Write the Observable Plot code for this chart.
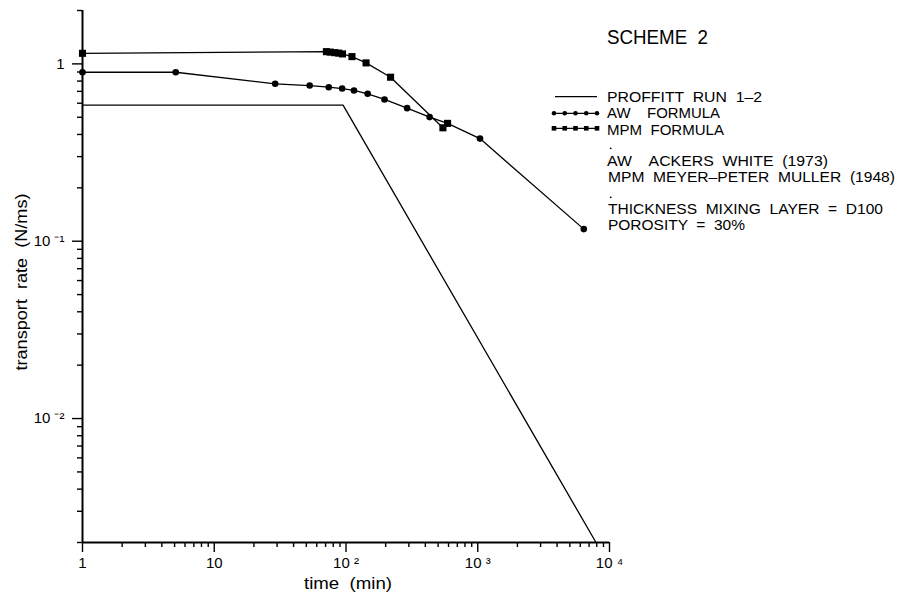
<!DOCTYPE html>
<html><head><meta charset="utf-8">
<script src="https://cdn.jsdelivr.net/npm/d3@7"></script>
<script src="https://cdn.jsdelivr.net/npm/@observablehq/plot@0.6"></script>
<style>body{margin:0;background:#fff} svg{display:block}</style>
</head><body><div id="chart"></div>
<script>
// ---- data ----
const proffittTime = [1, 95, 7900];
const proffittRate = [0.585, 0.585, 0.002];

const awTime = [1, 5.1, 29, 53, 74, 93.5, 115, 146, 196, 291, 431, 590, 1040, 6380];
const awRate = [0.897, 0.897, 0.772, 0.755, 0.739, 0.726, 0.708, 0.678, 0.630, 0.563, 0.501, 0.462, 0.379, 0.117];

const mpmTime = [1, 71, 76, 82, 88, 94, 111, 142, 218, 544, 590];
const mpmRate = [1.147, 1.172, 1.165, 1.157, 1.150, 1.138, 1.099, 1.013, 0.841, 0.436, 0.462];

const xMajor = [1, 10, 100, 1000, 10000];
const xMajorLabels = ["1", "10", "10 ²", "10 ³", "10 ⁴"];
const yMajor = [0.01, 0.1, 1];
const yMajorLabels = ["10 ⁻²", "10 ⁻¹", "1"];

const legendLabels = ["PROFFITT  RUN  1–2", "AW    FORMULA", "MPM  FORMULA"];
const noteLines = ["AW    ACKERS  WHITE  (1973)", "MPM  MEYER–PETER  MULLER  (1948)"];
const paramLines = ["THICKNESS  MIXING  LAYER  =  D100", "POROSITY  =  30%"];
const titleText = "SCHEME  2";
const xLabel = "time  (min)";
const yLabel = "transport  rate  (N/ms)";

// ---- build tables ----
const proffitt = proffittTime.map((t, i) => ({t, r: proffittRate[i]}));
const aw = awTime.map((t, i) => ({t, r: awRate[i]}));
const mpm = mpmTime.map((t, i) => ({t, r: mpmRate[i]}));

const xMinor = [];
for (const d of [1, 10, 100, 1000]) for (let k = 2; k <= 9; k++) xMinor.push(k * d);
const yMinor = [];
for (const d of [0.001, 0.01, 0.1]) for (let k = 2; k <= 9; k++) if (k * d >= 0.002) yMinor.push(k * d);
yMinor.push(2);

const font = "'Liberation Sans', Arial, Helvetica, sans-serif";

const plot = Plot.plot({
  width: 898,
  height: 592,
  marginLeft: 82,
  marginRight: 289,
  marginTop: 10,
  marginBottom: 50,
  x: {type: "log", domain: [1, 1e4]},
  y: {type: "log", domain: [0.002, 2]},
  style: {fontFamily: font, fontSize: "15px", color: "#000", background: "#fff", overflow: "visible"},
  marks: [
    Plot.axisX(xMinor, {tickSize: 5, tickFormat: () => "", label: null, strokeWidth: 1.4}),
    Plot.axisX(xMajor, {tickSize: 10, tickPadding: 5, fontSize: 15, tickFormat: d => xMajorLabels[xMajor.indexOf(d)], label: null, strokeWidth: 1.4}),
    Plot.axisY(yMinor, {tickSize: 5, tickFormat: () => "", label: null, strokeWidth: 1.4}),
    Plot.axisY(yMajor, {tickSize: 10, tickPadding: 8, fontSize: 15, tickFormat: d => yMajorLabels[yMajor.indexOf(d)], label: null, strokeWidth: 1.4}),
    Plot.ruleX([1], {strokeWidth: 2}),
    Plot.ruleY([0.002], {strokeWidth: 2}),
    Plot.line(proffitt, {x: "t", y: "r", stroke: "black", strokeWidth: 1.3}),
    Plot.line(aw, {x: "t", y: "r", stroke: "black", strokeWidth: 1.3}),
    Plot.dot(aw, {x: "t", y: "r", r: 3.3, fill: "black", stroke: null}),
    Plot.line(mpm, {x: "t", y: "r", stroke: "black", strokeWidth: 1.3}),
    Plot.dot(mpm, {x: "t", y: "r", r: 4, symbol: "square", fill: "black", stroke: null})
  ]
});

document.getElementById("chart").appendChild(plot);

// ---- annotations: title, legend, axis labels ----
const svg = d3.select(plot);
const g = svg.append("g").attr("font-family", font).attr("fill", "black").attr("text-anchor", "start");

function txt(s, x, y, size, len) {
  const t = g.append("text").attr("x", x).attr("y", y).attr("font-size", size)
    .attr("text-anchor", "start").style("white-space", "pre").text(s);
  if (len) t.attr("textLength", len).attr("lengthAdjust", "spacingAndGlyphs");
  return t;
}

txt(titleText, 607, 44, 20, 101);

// legend samples
g.append("line").attr("x1", 555).attr("x2", 597).attr("y1", 96.7).attr("y2", 96.7).attr("stroke", "black").attr("stroke-width", 1.3);
g.append("line").attr("x1", 553).attr("x2", 597).attr("y1", 113.3).attr("y2", 113.3).attr("stroke", "black").attr("stroke-width", 1.3);
g.append("line").attr("x1", 553).attr("x2", 597).attr("y1", 128.3).attr("y2", 128.3).attr("stroke", "black").attr("stroke-width", 1.3);
for (let i = 0; i < 5; i++) {
  const cx = 554 + i * 10.75;
  g.append("circle").attr("cx", cx).attr("cy", 113.3).attr("r", 2.3);
  g.append("rect").attr("x", cx - 2.3).attr("y", 128.3 - 2.3).attr("width", 4.6).attr("height", 4.6);
}
txt(legendLabels[0], 607, 101.7, 14.5, 155);
txt(legendLabels[1], 607, 118.3, 14.5, 113);
txt(legendLabels[2], 607, 134.5, 14.5, 117);

// stray specks above the note blocks
g.append("circle").attr("cx", 610.7).attr("cy", 148.3).attr("r", 0.9);
g.append("circle").attr("cx", 610.7).attr("cy", 197.3).attr("r", 0.9);
txt(noteLines[0], 607, 165.5, 14, 221);
txt(noteLines[1], 608, 181.5, 14, 287);
txt(paramLines[0], 608, 213.5, 14, 275);
txt(paramLines[1], 608, 229.5, 14, 137);

// axis labels
txt(xLabel, 348, 588.5, 16, 88).attr("text-anchor", "middle");
txt(yLabel, 0, 0, 16.5, 177).attr("text-anchor", "middle")
  .attr("transform", "translate(27,282) rotate(-90)");
</script>
</body></html>
